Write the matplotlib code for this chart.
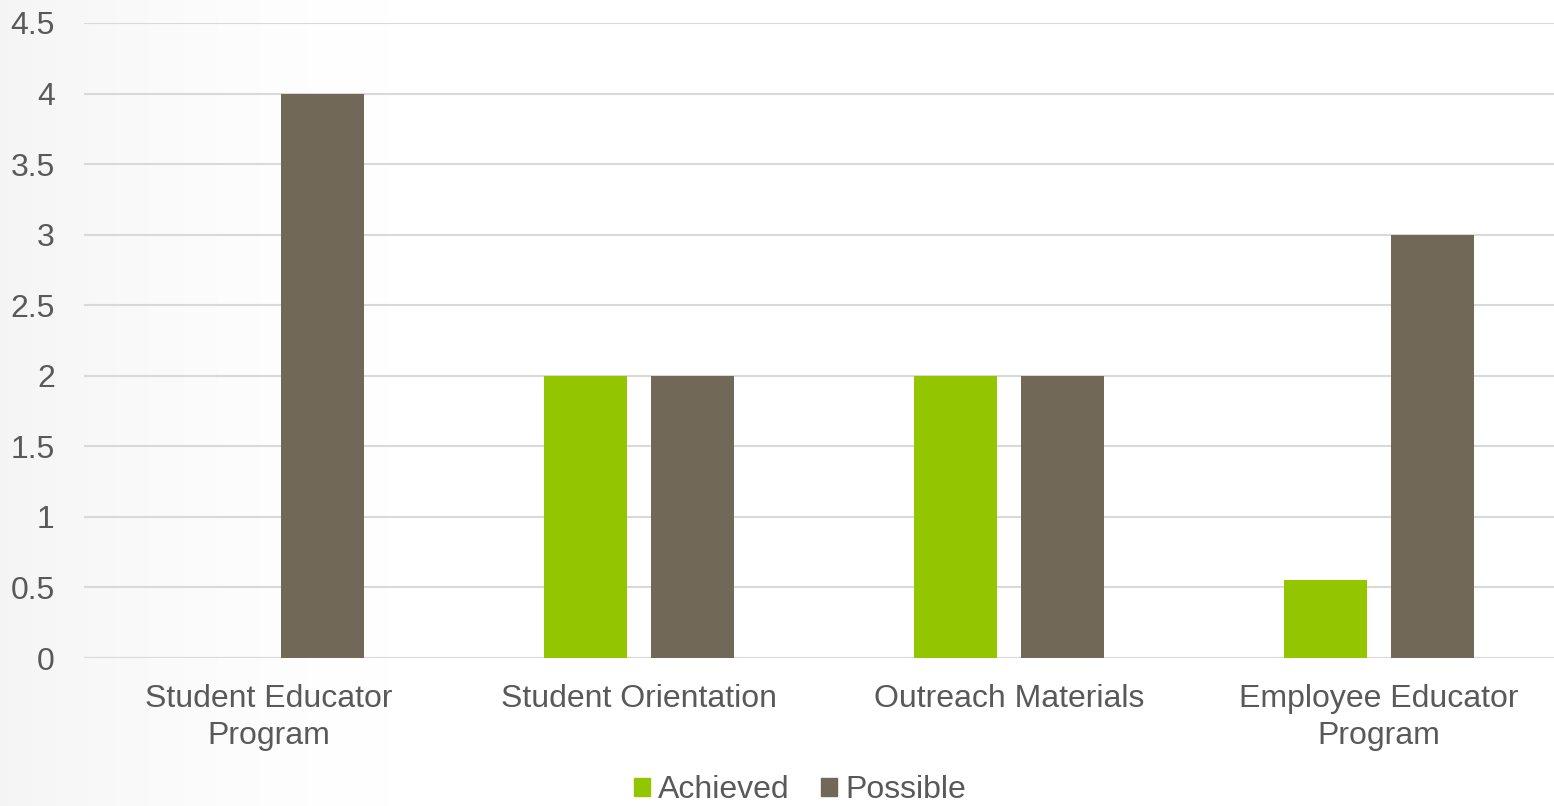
import numpy as np
import matplotlib.pyplot as plt
from matplotlib.patches import Patch

plt.rcParams['font.family'] = ['Liberation Sans', 'DejaVu Sans']

# Data
categories = ["Student Educator\nProgram", "Student Orientation",
              "Outreach Materials", "Employee Educator\nProgram"]
achieved = [0, 2, 2, 0.55]
possible = [4, 2, 2, 3]
yticks = [0, 0.5, 1, 1.5, 2, 2.5, 3, 3.5, 4, 4.5]

green = "#94c600"
brown = "#716858"
text_col = "#595959"

fig = plt.figure(figsize=(15.54, 8.06), dpi=100)

# faint grey wash on the far left, like the slide background
bg = fig.add_axes([0, 0, 1, 1], zorder=-1)
xx = np.linspace(0, 1, 400)
grad = 1.0 - 0.04 * np.clip(1 - xx / 0.25, 0, 1) ** 1.5
img = np.tile(grad, (10, 1))
bg.imshow(np.dstack([img, img, img]), aspect='auto', extent=[0, 1, 0, 1])
bg.axis('off')

W, H = 1554, 806
ax = fig.add_axes([84 / W, (H - 658) / H, 1480 / W, (658 - 23) / H])
ax.patch.set_alpha(0)

x = np.arange(len(categories))
bw = 0.225
gap = 0.063
ax.bar(x - (bw + gap) / 2, achieved, bw, color=green, zorder=3)
ax.bar(x + (bw + gap) / 2, possible, bw, color=brown, zorder=3)

ax.set_xlim(-0.5, 3.5)
ax.set_ylim(0, 4.5)
ax.set_yticks(yticks)
ax.set_yticklabels([f"{t:g}" for t in yticks])
ax.yaxis.grid(True, color="#d9d9d9", linewidth=1.5, zorder=0)
ax.set_axisbelow(True)
for s in ax.spines.values():
    s.set_visible(False)
ax.axhline(0, color="#d9d9d9", linewidth=1.5, zorder=1)
ax.tick_params(axis='both', length=0, labelsize=23, colors=text_col)
ax.tick_params(axis='y', pad=21)
ax.tick_params(axis='x', pad=19)
ax.set_xticks(x)
ax.set_xticklabels(categories, linespacing=1.27)

handles = [Patch(color=green, label="Achieved"), Patch(color=brown, label="Possible")]
fig.legend(handles=handles, loc='center', bbox_to_anchor=(800 / W, (H - 790) / H),
           ncol=2, frameon=False, fontsize=23, labelcolor=text_col,
           handlelength=0.5, handleheight=0.5, handletextpad=0.25, columnspacing=1.0,
           borderpad=0)

fig.savefig("out.png", dpi=100)
